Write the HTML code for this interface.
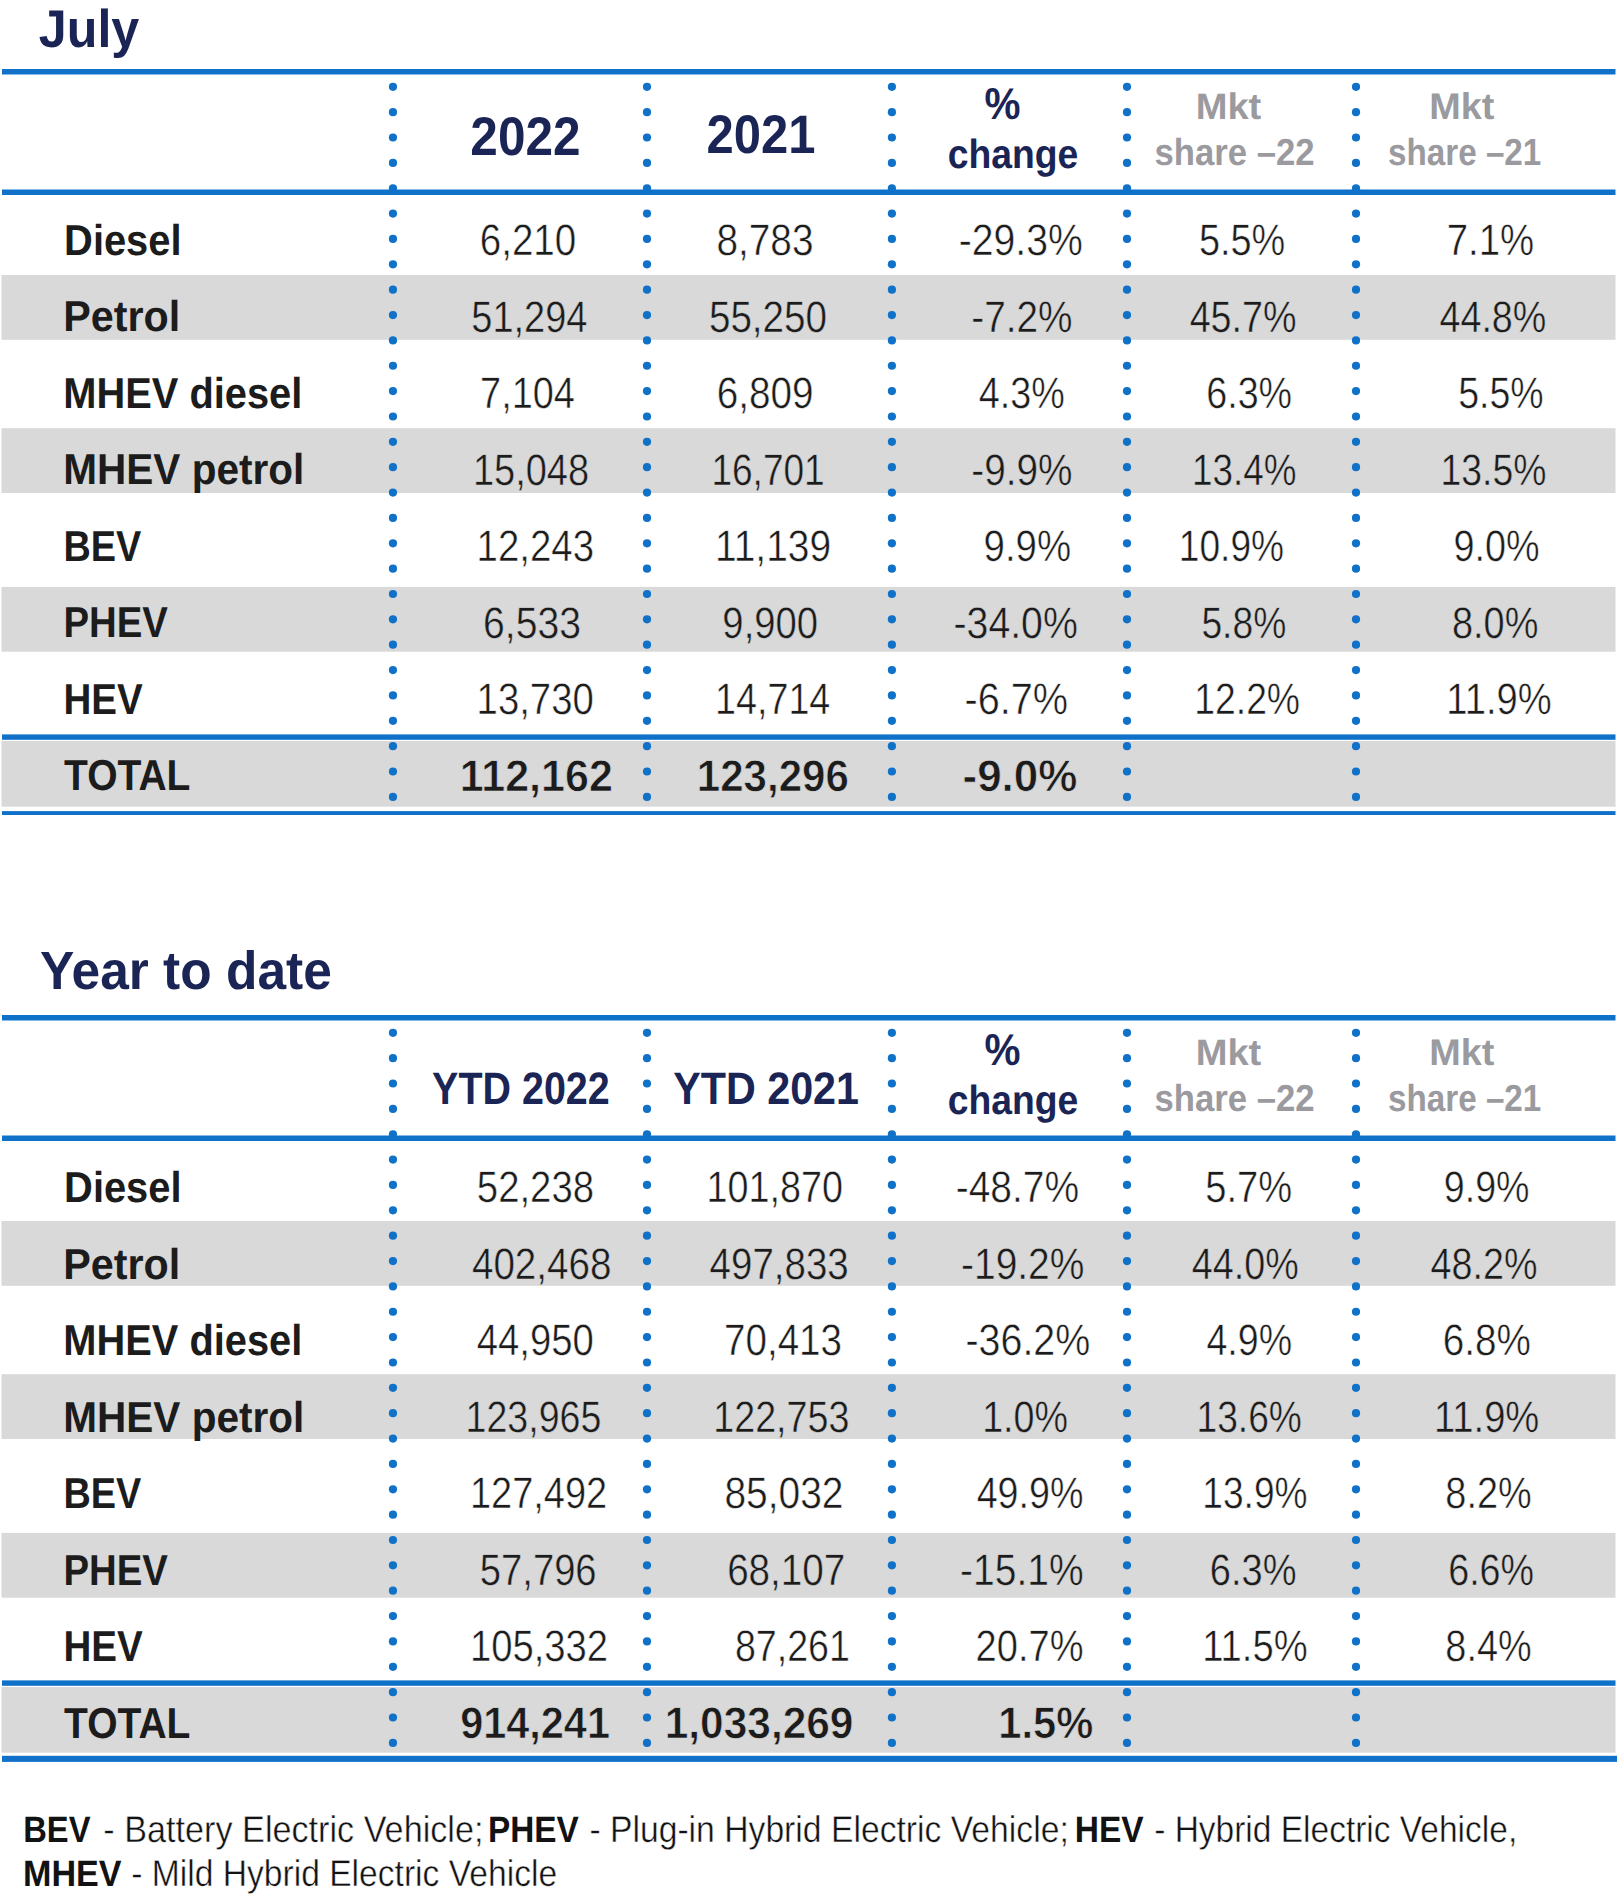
<!DOCTYPE html>
<html><head><meta charset="utf-8"><title>New car registrations by fuel type</title>
<style>
html,body{margin:0;padding:0;background:#fff;overflow:hidden;}
svg{display:block;}
text{font-family:"Liberation Sans",sans-serif;}
</style></head>
<body>
<svg width="1618" height="1899" viewBox="0 0 1618 1899" text-rendering="geometricPrecision">
<rect x="0" y="0" width="1618" height="1899" fill="#ffffff"/>
<text transform="translate(38.85 46.50) scale(0.9429 1)" font-size="53.24" font-weight="bold" fill="#1b2555">July</text>
<text transform="translate(40.00 988.80) scale(0.9574 1)" font-size="53.79" font-weight="bold" fill="#1b2555">Year to date</text>
<rect x="2.00" y="69.00" width="1613.50" height="5.50" fill="#1071c9"/>
<rect x="2.00" y="189.50" width="1613.50" height="5.50" fill="#1071c9"/>
<rect x="1.50" y="275.00" width="1614.00" height="64.80" fill="#d9d9d9"/>
<rect x="1.50" y="428.20" width="1614.00" height="64.80" fill="#d9d9d9"/>
<rect x="1.50" y="586.90" width="1614.00" height="64.80" fill="#d9d9d9"/>
<rect x="2.00" y="734.40" width="1613.50" height="5.40" fill="#1071c9"/>
<rect x="1.50" y="741.00" width="1614.00" height="65.70" fill="#d9d9d9"/>
<rect x="2.00" y="811.10" width="1613.50" height="3.90" fill="#1071c9"/>
<circle cx="392.95" cy="86.80" r="4.1" fill="#1071c9"/>
<circle cx="392.95" cy="112.16" r="4.1" fill="#1071c9"/>
<circle cx="392.95" cy="137.52" r="4.1" fill="#1071c9"/>
<circle cx="392.95" cy="162.88" r="4.1" fill="#1071c9"/>
<circle cx="392.95" cy="188.24" r="4.1" fill="#1071c9"/>
<circle cx="392.95" cy="213.60" r="4.1" fill="#1071c9"/>
<circle cx="392.95" cy="238.96" r="4.1" fill="#1071c9"/>
<circle cx="392.95" cy="264.32" r="4.1" fill="#1071c9"/>
<circle cx="392.95" cy="289.68" r="4.1" fill="#1071c9"/>
<circle cx="392.95" cy="315.04" r="4.1" fill="#1071c9"/>
<circle cx="392.95" cy="340.40" r="4.1" fill="#1071c9"/>
<circle cx="392.95" cy="365.76" r="4.1" fill="#1071c9"/>
<circle cx="392.95" cy="391.12" r="4.1" fill="#1071c9"/>
<circle cx="392.95" cy="416.48" r="4.1" fill="#1071c9"/>
<circle cx="392.95" cy="441.84" r="4.1" fill="#1071c9"/>
<circle cx="392.95" cy="467.20" r="4.1" fill="#1071c9"/>
<circle cx="392.95" cy="492.56" r="4.1" fill="#1071c9"/>
<circle cx="392.95" cy="517.92" r="4.1" fill="#1071c9"/>
<circle cx="392.95" cy="543.28" r="4.1" fill="#1071c9"/>
<circle cx="392.95" cy="568.64" r="4.1" fill="#1071c9"/>
<circle cx="392.95" cy="594.00" r="4.1" fill="#1071c9"/>
<circle cx="392.95" cy="619.36" r="4.1" fill="#1071c9"/>
<circle cx="392.95" cy="644.72" r="4.1" fill="#1071c9"/>
<circle cx="392.95" cy="670.08" r="4.1" fill="#1071c9"/>
<circle cx="392.95" cy="695.44" r="4.1" fill="#1071c9"/>
<circle cx="392.95" cy="720.80" r="4.1" fill="#1071c9"/>
<circle cx="392.95" cy="746.16" r="4.1" fill="#1071c9"/>
<circle cx="392.95" cy="771.52" r="4.1" fill="#1071c9"/>
<circle cx="392.95" cy="796.88" r="4.1" fill="#1071c9"/>
<circle cx="647.0" cy="86.80" r="4.1" fill="#1071c9"/>
<circle cx="647.0" cy="112.16" r="4.1" fill="#1071c9"/>
<circle cx="647.0" cy="137.52" r="4.1" fill="#1071c9"/>
<circle cx="647.0" cy="162.88" r="4.1" fill="#1071c9"/>
<circle cx="647.0" cy="188.24" r="4.1" fill="#1071c9"/>
<circle cx="647.0" cy="213.60" r="4.1" fill="#1071c9"/>
<circle cx="647.0" cy="238.96" r="4.1" fill="#1071c9"/>
<circle cx="647.0" cy="264.32" r="4.1" fill="#1071c9"/>
<circle cx="647.0" cy="289.68" r="4.1" fill="#1071c9"/>
<circle cx="647.0" cy="315.04" r="4.1" fill="#1071c9"/>
<circle cx="647.0" cy="340.40" r="4.1" fill="#1071c9"/>
<circle cx="647.0" cy="365.76" r="4.1" fill="#1071c9"/>
<circle cx="647.0" cy="391.12" r="4.1" fill="#1071c9"/>
<circle cx="647.0" cy="416.48" r="4.1" fill="#1071c9"/>
<circle cx="647.0" cy="441.84" r="4.1" fill="#1071c9"/>
<circle cx="647.0" cy="467.20" r="4.1" fill="#1071c9"/>
<circle cx="647.0" cy="492.56" r="4.1" fill="#1071c9"/>
<circle cx="647.0" cy="517.92" r="4.1" fill="#1071c9"/>
<circle cx="647.0" cy="543.28" r="4.1" fill="#1071c9"/>
<circle cx="647.0" cy="568.64" r="4.1" fill="#1071c9"/>
<circle cx="647.0" cy="594.00" r="4.1" fill="#1071c9"/>
<circle cx="647.0" cy="619.36" r="4.1" fill="#1071c9"/>
<circle cx="647.0" cy="644.72" r="4.1" fill="#1071c9"/>
<circle cx="647.0" cy="670.08" r="4.1" fill="#1071c9"/>
<circle cx="647.0" cy="695.44" r="4.1" fill="#1071c9"/>
<circle cx="647.0" cy="720.80" r="4.1" fill="#1071c9"/>
<circle cx="647.0" cy="746.16" r="4.1" fill="#1071c9"/>
<circle cx="647.0" cy="771.52" r="4.1" fill="#1071c9"/>
<circle cx="647.0" cy="796.88" r="4.1" fill="#1071c9"/>
<circle cx="891.9" cy="86.80" r="4.1" fill="#1071c9"/>
<circle cx="891.9" cy="112.16" r="4.1" fill="#1071c9"/>
<circle cx="891.9" cy="137.52" r="4.1" fill="#1071c9"/>
<circle cx="891.9" cy="162.88" r="4.1" fill="#1071c9"/>
<circle cx="891.9" cy="188.24" r="4.1" fill="#1071c9"/>
<circle cx="891.9" cy="213.60" r="4.1" fill="#1071c9"/>
<circle cx="891.9" cy="238.96" r="4.1" fill="#1071c9"/>
<circle cx="891.9" cy="264.32" r="4.1" fill="#1071c9"/>
<circle cx="891.9" cy="289.68" r="4.1" fill="#1071c9"/>
<circle cx="891.9" cy="315.04" r="4.1" fill="#1071c9"/>
<circle cx="891.9" cy="340.40" r="4.1" fill="#1071c9"/>
<circle cx="891.9" cy="365.76" r="4.1" fill="#1071c9"/>
<circle cx="891.9" cy="391.12" r="4.1" fill="#1071c9"/>
<circle cx="891.9" cy="416.48" r="4.1" fill="#1071c9"/>
<circle cx="891.9" cy="441.84" r="4.1" fill="#1071c9"/>
<circle cx="891.9" cy="467.20" r="4.1" fill="#1071c9"/>
<circle cx="891.9" cy="492.56" r="4.1" fill="#1071c9"/>
<circle cx="891.9" cy="517.92" r="4.1" fill="#1071c9"/>
<circle cx="891.9" cy="543.28" r="4.1" fill="#1071c9"/>
<circle cx="891.9" cy="568.64" r="4.1" fill="#1071c9"/>
<circle cx="891.9" cy="594.00" r="4.1" fill="#1071c9"/>
<circle cx="891.9" cy="619.36" r="4.1" fill="#1071c9"/>
<circle cx="891.9" cy="644.72" r="4.1" fill="#1071c9"/>
<circle cx="891.9" cy="670.08" r="4.1" fill="#1071c9"/>
<circle cx="891.9" cy="695.44" r="4.1" fill="#1071c9"/>
<circle cx="891.9" cy="720.80" r="4.1" fill="#1071c9"/>
<circle cx="891.9" cy="746.16" r="4.1" fill="#1071c9"/>
<circle cx="891.9" cy="771.52" r="4.1" fill="#1071c9"/>
<circle cx="891.9" cy="796.88" r="4.1" fill="#1071c9"/>
<circle cx="1127.0" cy="86.80" r="4.1" fill="#1071c9"/>
<circle cx="1127.0" cy="112.16" r="4.1" fill="#1071c9"/>
<circle cx="1127.0" cy="137.52" r="4.1" fill="#1071c9"/>
<circle cx="1127.0" cy="162.88" r="4.1" fill="#1071c9"/>
<circle cx="1127.0" cy="188.24" r="4.1" fill="#1071c9"/>
<circle cx="1127.0" cy="213.60" r="4.1" fill="#1071c9"/>
<circle cx="1127.0" cy="238.96" r="4.1" fill="#1071c9"/>
<circle cx="1127.0" cy="264.32" r="4.1" fill="#1071c9"/>
<circle cx="1127.0" cy="289.68" r="4.1" fill="#1071c9"/>
<circle cx="1127.0" cy="315.04" r="4.1" fill="#1071c9"/>
<circle cx="1127.0" cy="340.40" r="4.1" fill="#1071c9"/>
<circle cx="1127.0" cy="365.76" r="4.1" fill="#1071c9"/>
<circle cx="1127.0" cy="391.12" r="4.1" fill="#1071c9"/>
<circle cx="1127.0" cy="416.48" r="4.1" fill="#1071c9"/>
<circle cx="1127.0" cy="441.84" r="4.1" fill="#1071c9"/>
<circle cx="1127.0" cy="467.20" r="4.1" fill="#1071c9"/>
<circle cx="1127.0" cy="492.56" r="4.1" fill="#1071c9"/>
<circle cx="1127.0" cy="517.92" r="4.1" fill="#1071c9"/>
<circle cx="1127.0" cy="543.28" r="4.1" fill="#1071c9"/>
<circle cx="1127.0" cy="568.64" r="4.1" fill="#1071c9"/>
<circle cx="1127.0" cy="594.00" r="4.1" fill="#1071c9"/>
<circle cx="1127.0" cy="619.36" r="4.1" fill="#1071c9"/>
<circle cx="1127.0" cy="644.72" r="4.1" fill="#1071c9"/>
<circle cx="1127.0" cy="670.08" r="4.1" fill="#1071c9"/>
<circle cx="1127.0" cy="695.44" r="4.1" fill="#1071c9"/>
<circle cx="1127.0" cy="720.80" r="4.1" fill="#1071c9"/>
<circle cx="1127.0" cy="746.16" r="4.1" fill="#1071c9"/>
<circle cx="1127.0" cy="771.52" r="4.1" fill="#1071c9"/>
<circle cx="1127.0" cy="796.88" r="4.1" fill="#1071c9"/>
<circle cx="1356.0" cy="86.80" r="4.1" fill="#1071c9"/>
<circle cx="1356.0" cy="112.16" r="4.1" fill="#1071c9"/>
<circle cx="1356.0" cy="137.52" r="4.1" fill="#1071c9"/>
<circle cx="1356.0" cy="162.88" r="4.1" fill="#1071c9"/>
<circle cx="1356.0" cy="188.24" r="4.1" fill="#1071c9"/>
<circle cx="1356.0" cy="213.60" r="4.1" fill="#1071c9"/>
<circle cx="1356.0" cy="238.96" r="4.1" fill="#1071c9"/>
<circle cx="1356.0" cy="264.32" r="4.1" fill="#1071c9"/>
<circle cx="1356.0" cy="289.68" r="4.1" fill="#1071c9"/>
<circle cx="1356.0" cy="315.04" r="4.1" fill="#1071c9"/>
<circle cx="1356.0" cy="340.40" r="4.1" fill="#1071c9"/>
<circle cx="1356.0" cy="365.76" r="4.1" fill="#1071c9"/>
<circle cx="1356.0" cy="391.12" r="4.1" fill="#1071c9"/>
<circle cx="1356.0" cy="416.48" r="4.1" fill="#1071c9"/>
<circle cx="1356.0" cy="441.84" r="4.1" fill="#1071c9"/>
<circle cx="1356.0" cy="467.20" r="4.1" fill="#1071c9"/>
<circle cx="1356.0" cy="492.56" r="4.1" fill="#1071c9"/>
<circle cx="1356.0" cy="517.92" r="4.1" fill="#1071c9"/>
<circle cx="1356.0" cy="543.28" r="4.1" fill="#1071c9"/>
<circle cx="1356.0" cy="568.64" r="4.1" fill="#1071c9"/>
<circle cx="1356.0" cy="594.00" r="4.1" fill="#1071c9"/>
<circle cx="1356.0" cy="619.36" r="4.1" fill="#1071c9"/>
<circle cx="1356.0" cy="644.72" r="4.1" fill="#1071c9"/>
<circle cx="1356.0" cy="670.08" r="4.1" fill="#1071c9"/>
<circle cx="1356.0" cy="695.44" r="4.1" fill="#1071c9"/>
<circle cx="1356.0" cy="720.80" r="4.1" fill="#1071c9"/>
<circle cx="1356.0" cy="746.16" r="4.1" fill="#1071c9"/>
<circle cx="1356.0" cy="771.52" r="4.1" fill="#1071c9"/>
<circle cx="1356.0" cy="796.88" r="4.1" fill="#1071c9"/>
<text transform="translate(64.11 254.80) scale(0.9226 1)" font-size="43.20" font-weight="bold" fill="#1c1c1c">Diesel</text>
<text transform="translate(479.75 255.05) scale(0.8781 1)" font-size="43.93" font-weight="normal" fill="#1c1c1c" stroke="#ffffff" stroke-width="0.5">6,210</text>
<text transform="translate(716.43 255.05) scale(0.8828 1)" font-size="43.93" font-weight="normal" fill="#1c1c1c" stroke="#ffffff" stroke-width="0.5">8,783</text>
<text transform="translate(958.71 255.05) scale(0.8918 1)" font-size="43.93" font-weight="normal" fill="#1c1c1c" stroke="#ffffff" stroke-width="0.5">-29.3%</text>
<text transform="translate(1198.96 255.05) scale(0.8625 1)" font-size="43.93" font-weight="normal" fill="#1c1c1c" stroke="#ffffff" stroke-width="0.5">5.5%</text>
<text transform="translate(1446.66 255.05) scale(0.8727 1)" font-size="43.93" font-weight="normal" fill="#1c1c1c" stroke="#ffffff" stroke-width="0.5">7.1%</text>
<text transform="translate(63.21 331.30) scale(0.9560 1)" font-size="43.20" font-weight="bold" fill="#1c1c1c">Petrol</text>
<text transform="translate(471.26 331.55) scale(0.8645 1)" font-size="43.93" font-weight="normal" fill="#1c1c1c" stroke="#d9d9d9" stroke-width="0.5">51,294</text>
<text transform="translate(708.93 331.55) scale(0.8789 1)" font-size="43.93" font-weight="normal" fill="#1c1c1c" stroke="#d9d9d9" stroke-width="0.5">55,250</text>
<text transform="translate(971.23 331.55) scale(0.8823 1)" font-size="43.93" font-weight="normal" fill="#1c1c1c" stroke="#d9d9d9" stroke-width="0.5">-7.2%</text>
<text transform="translate(1189.63 331.55) scale(0.8586 1)" font-size="43.93" font-weight="normal" fill="#1c1c1c" stroke="#d9d9d9" stroke-width="0.5">45.7%</text>
<text transform="translate(1439.43 331.55) scale(0.8586 1)" font-size="43.93" font-weight="normal" fill="#1c1c1c" stroke="#d9d9d9" stroke-width="0.5">44.8%</text>
<text transform="translate(63.31 407.80) scale(0.9220 1)" font-size="43.20" font-weight="bold" fill="#1c1c1c">MHEV diesel</text>
<text transform="translate(480.09 408.05) scale(0.8613 1)" font-size="43.93" font-weight="normal" fill="#1c1c1c" stroke="#ffffff" stroke-width="0.5">7,104</text>
<text transform="translate(716.74 408.05) scale(0.8808 1)" font-size="43.93" font-weight="normal" fill="#1c1c1c" stroke="#ffffff" stroke-width="0.5">6,809</text>
<text transform="translate(978.83 408.05) scale(0.8598 1)" font-size="43.93" font-weight="normal" fill="#1c1c1c" stroke="#ffffff" stroke-width="0.5">4.3%</text>
<text transform="translate(1206.29 408.05) scale(0.8571 1)" font-size="43.93" font-weight="normal" fill="#1c1c1c" stroke="#ffffff" stroke-width="0.5">6.3%</text>
<text transform="translate(1458.28 408.05) scale(0.8532 1)" font-size="43.93" font-weight="normal" fill="#1c1c1c" stroke="#ffffff" stroke-width="0.5">5.5%</text>
<text transform="translate(63.26 484.30) scale(0.9387 1)" font-size="43.20" font-weight="bold" fill="#1c1c1c">MHEV petrol</text>
<text transform="translate(472.93 484.55) scale(0.8645 1)" font-size="43.93" font-weight="normal" fill="#1c1c1c" stroke="#d9d9d9" stroke-width="0.5">15,048</text>
<text transform="translate(711.40 484.55) scale(0.8435 1)" font-size="43.93" font-weight="normal" fill="#1c1c1c" stroke="#d9d9d9" stroke-width="0.5">16,701</text>
<text transform="translate(971.23 484.55) scale(0.8823 1)" font-size="43.93" font-weight="normal" fill="#1c1c1c" stroke="#d9d9d9" stroke-width="0.5">-9.9%</text>
<text transform="translate(1192.11 484.55) scale(0.8383 1)" font-size="43.93" font-weight="normal" fill="#1c1c1c" stroke="#d9d9d9" stroke-width="0.5">13.4%</text>
<text transform="translate(1440.58 484.55) scale(0.8492 1)" font-size="43.93" font-weight="normal" fill="#1c1c1c" stroke="#d9d9d9" stroke-width="0.5">13.5%</text>
<text transform="translate(63.45 560.80) scale(0.8757 1)" font-size="43.20" font-weight="bold" fill="#1c1c1c">BEV</text>
<text transform="translate(476.60 561.05) scale(0.8738 1)" font-size="43.93" font-weight="normal" fill="#1c1c1c" stroke="#ffffff" stroke-width="0.5">12,243</text>
<text transform="translate(714.96 561.05) scale(0.8855 1)" font-size="43.93" font-weight="normal" fill="#1c1c1c" stroke="#ffffff" stroke-width="0.5">11,139</text>
<text transform="translate(983.55 561.05) scale(0.8748 1)" font-size="43.93" font-weight="normal" fill="#1c1c1c" stroke="#ffffff" stroke-width="0.5">9.9%</text>
<text transform="translate(1178.79 561.05) scale(0.8450 1)" font-size="43.93" font-weight="normal" fill="#1c1c1c" stroke="#ffffff" stroke-width="0.5">10.9%</text>
<text transform="translate(1453.58 561.05) scale(0.8603 1)" font-size="43.93" font-weight="normal" fill="#1c1c1c" stroke="#ffffff" stroke-width="0.5">9.0%</text>
<text transform="translate(63.41 637.30) scale(0.8875 1)" font-size="43.20" font-weight="bold" fill="#1c1c1c">PHEV</text>
<text transform="translate(483.12 637.55) scale(0.8903 1)" font-size="43.93" font-weight="normal" fill="#1c1c1c" stroke="#d9d9d9" stroke-width="0.5">6,533</text>
<text transform="translate(722.36 637.55) scale(0.8706 1)" font-size="43.93" font-weight="normal" fill="#1c1c1c" stroke="#d9d9d9" stroke-width="0.5">9,900</text>
<text transform="translate(953.51 637.55) scale(0.8933 1)" font-size="43.93" font-weight="normal" fill="#1c1c1c" stroke="#d9d9d9" stroke-width="0.5">-34.0%</text>
<text transform="translate(1201.38 637.55) scale(0.8481 1)" font-size="43.93" font-weight="normal" fill="#1c1c1c" stroke="#d9d9d9" stroke-width="0.5">5.8%</text>
<text transform="translate(1451.96 637.55) scale(0.8635 1)" font-size="43.93" font-weight="normal" fill="#1c1c1c" stroke="#d9d9d9" stroke-width="0.5">8.0%</text>
<text transform="translate(63.40 713.80) scale(0.8921 1)" font-size="43.20" font-weight="bold" fill="#1c1c1c">HEV</text>
<text transform="translate(476.60 714.05) scale(0.8723 1)" font-size="43.93" font-weight="normal" fill="#1c1c1c" stroke="#ffffff" stroke-width="0.5">13,730</text>
<text transform="translate(715.05 714.05) scale(0.8578 1)" font-size="43.93" font-weight="normal" fill="#1c1c1c" stroke="#ffffff" stroke-width="0.5">14,714</text>
<text transform="translate(964.59 714.05) scale(0.9020 1)" font-size="43.93" font-weight="normal" fill="#1c1c1c" stroke="#ffffff" stroke-width="0.5">-6.7%</text>
<text transform="translate(1194.28 714.05) scale(0.8492 1)" font-size="43.93" font-weight="normal" fill="#1c1c1c" stroke="#ffffff" stroke-width="0.5">12.2%</text>
<text transform="translate(1446.31 714.05) scale(0.8689 1)" font-size="43.93" font-weight="normal" fill="#1c1c1c" stroke="#ffffff" stroke-width="0.5">11.9%</text>
<text transform="translate(64.01 790.30) scale(0.9035 1)" font-size="43.20" font-weight="bold" fill="#1c1c1c">TOTAL</text>
<text transform="translate(459.70 790.65) scale(0.9729 1)" font-size="44.22" font-weight="bold" fill="#1c1c1c" stroke="#d9d9d9" stroke-width="0.7">112,162</text>
<text transform="translate(696.86 790.65) scale(0.9505 1)" font-size="44.22" font-weight="bold" fill="#1c1c1c" stroke="#d9d9d9" stroke-width="0.7">123,296</text>
<text transform="translate(962.53 790.65) scale(0.9937 1)" font-size="44.22" font-weight="bold" fill="#1c1c1c" stroke="#d9d9d9" stroke-width="0.7">-9.0%</text>
<text transform="translate(470.37 154.90) scale(0.9094 1)" font-size="54.48" font-weight="bold" fill="#1b2555">2022</text>
<text transform="translate(706.49 152.80) scale(0.9014 1)" font-size="54.34" font-weight="bold" fill="#1b2555">2021</text>
<text transform="translate(984.59 118.80) scale(0.9104 1)" font-size="44.46" font-weight="bold" fill="#1b2555">%</text>
<text transform="translate(947.81 168.20) scale(0.9133 1)" font-size="40.83" font-weight="bold" fill="#1b2555">change</text>
<text transform="translate(1195.63 118.80) scale(1.0349 1)" font-size="36.83" font-weight="bold" fill="#9a9a9f">Mkt</text>
<text transform="translate(1154.49 164.50) scale(0.9247 1)" font-size="37.52" font-weight="bold" fill="#9a9a9f">share –22</text>
<text transform="translate(1429.25 119.10) scale(1.0152 1)" font-size="37.24" font-weight="bold" fill="#9a9a9f">Mkt</text>
<text transform="translate(1388.04 165.10) scale(0.8820 1)" font-size="37.66" font-weight="bold" fill="#9a9a9f">share –21</text>
<rect x="2.00" y="1015.00" width="1613.50" height="5.50" fill="#1071c9"/>
<rect x="2.00" y="1135.50" width="1613.50" height="5.50" fill="#1071c9"/>
<rect x="1.50" y="1221.00" width="1614.00" height="64.80" fill="#d9d9d9"/>
<rect x="1.50" y="1374.20" width="1614.00" height="64.80" fill="#d9d9d9"/>
<rect x="1.50" y="1532.90" width="1614.00" height="64.80" fill="#d9d9d9"/>
<rect x="2.00" y="1680.40" width="1613.50" height="5.40" fill="#1071c9"/>
<rect x="1.50" y="1687.00" width="1614.00" height="65.70" fill="#d9d9d9"/>
<rect x="2.00" y="1755.80" width="1615.00" height="6.10" fill="#1071c9"/>
<circle cx="392.95" cy="1032.80" r="4.1" fill="#1071c9"/>
<circle cx="392.95" cy="1058.16" r="4.1" fill="#1071c9"/>
<circle cx="392.95" cy="1083.52" r="4.1" fill="#1071c9"/>
<circle cx="392.95" cy="1108.88" r="4.1" fill="#1071c9"/>
<circle cx="392.95" cy="1134.24" r="4.1" fill="#1071c9"/>
<circle cx="392.95" cy="1159.60" r="4.1" fill="#1071c9"/>
<circle cx="392.95" cy="1184.96" r="4.1" fill="#1071c9"/>
<circle cx="392.95" cy="1210.32" r="4.1" fill="#1071c9"/>
<circle cx="392.95" cy="1235.68" r="4.1" fill="#1071c9"/>
<circle cx="392.95" cy="1261.04" r="4.1" fill="#1071c9"/>
<circle cx="392.95" cy="1286.40" r="4.1" fill="#1071c9"/>
<circle cx="392.95" cy="1311.76" r="4.1" fill="#1071c9"/>
<circle cx="392.95" cy="1337.12" r="4.1" fill="#1071c9"/>
<circle cx="392.95" cy="1362.48" r="4.1" fill="#1071c9"/>
<circle cx="392.95" cy="1387.84" r="4.1" fill="#1071c9"/>
<circle cx="392.95" cy="1413.20" r="4.1" fill="#1071c9"/>
<circle cx="392.95" cy="1438.56" r="4.1" fill="#1071c9"/>
<circle cx="392.95" cy="1463.92" r="4.1" fill="#1071c9"/>
<circle cx="392.95" cy="1489.28" r="4.1" fill="#1071c9"/>
<circle cx="392.95" cy="1514.64" r="4.1" fill="#1071c9"/>
<circle cx="392.95" cy="1540.00" r="4.1" fill="#1071c9"/>
<circle cx="392.95" cy="1565.36" r="4.1" fill="#1071c9"/>
<circle cx="392.95" cy="1590.72" r="4.1" fill="#1071c9"/>
<circle cx="392.95" cy="1616.08" r="4.1" fill="#1071c9"/>
<circle cx="392.95" cy="1641.44" r="4.1" fill="#1071c9"/>
<circle cx="392.95" cy="1666.80" r="4.1" fill="#1071c9"/>
<circle cx="392.95" cy="1692.16" r="4.1" fill="#1071c9"/>
<circle cx="392.95" cy="1717.52" r="4.1" fill="#1071c9"/>
<circle cx="392.95" cy="1742.88" r="4.1" fill="#1071c9"/>
<circle cx="647.0" cy="1032.80" r="4.1" fill="#1071c9"/>
<circle cx="647.0" cy="1058.16" r="4.1" fill="#1071c9"/>
<circle cx="647.0" cy="1083.52" r="4.1" fill="#1071c9"/>
<circle cx="647.0" cy="1108.88" r="4.1" fill="#1071c9"/>
<circle cx="647.0" cy="1134.24" r="4.1" fill="#1071c9"/>
<circle cx="647.0" cy="1159.60" r="4.1" fill="#1071c9"/>
<circle cx="647.0" cy="1184.96" r="4.1" fill="#1071c9"/>
<circle cx="647.0" cy="1210.32" r="4.1" fill="#1071c9"/>
<circle cx="647.0" cy="1235.68" r="4.1" fill="#1071c9"/>
<circle cx="647.0" cy="1261.04" r="4.1" fill="#1071c9"/>
<circle cx="647.0" cy="1286.40" r="4.1" fill="#1071c9"/>
<circle cx="647.0" cy="1311.76" r="4.1" fill="#1071c9"/>
<circle cx="647.0" cy="1337.12" r="4.1" fill="#1071c9"/>
<circle cx="647.0" cy="1362.48" r="4.1" fill="#1071c9"/>
<circle cx="647.0" cy="1387.84" r="4.1" fill="#1071c9"/>
<circle cx="647.0" cy="1413.20" r="4.1" fill="#1071c9"/>
<circle cx="647.0" cy="1438.56" r="4.1" fill="#1071c9"/>
<circle cx="647.0" cy="1463.92" r="4.1" fill="#1071c9"/>
<circle cx="647.0" cy="1489.28" r="4.1" fill="#1071c9"/>
<circle cx="647.0" cy="1514.64" r="4.1" fill="#1071c9"/>
<circle cx="647.0" cy="1540.00" r="4.1" fill="#1071c9"/>
<circle cx="647.0" cy="1565.36" r="4.1" fill="#1071c9"/>
<circle cx="647.0" cy="1590.72" r="4.1" fill="#1071c9"/>
<circle cx="647.0" cy="1616.08" r="4.1" fill="#1071c9"/>
<circle cx="647.0" cy="1641.44" r="4.1" fill="#1071c9"/>
<circle cx="647.0" cy="1666.80" r="4.1" fill="#1071c9"/>
<circle cx="647.0" cy="1692.16" r="4.1" fill="#1071c9"/>
<circle cx="647.0" cy="1717.52" r="4.1" fill="#1071c9"/>
<circle cx="647.0" cy="1742.88" r="4.1" fill="#1071c9"/>
<circle cx="891.9" cy="1032.80" r="4.1" fill="#1071c9"/>
<circle cx="891.9" cy="1058.16" r="4.1" fill="#1071c9"/>
<circle cx="891.9" cy="1083.52" r="4.1" fill="#1071c9"/>
<circle cx="891.9" cy="1108.88" r="4.1" fill="#1071c9"/>
<circle cx="891.9" cy="1134.24" r="4.1" fill="#1071c9"/>
<circle cx="891.9" cy="1159.60" r="4.1" fill="#1071c9"/>
<circle cx="891.9" cy="1184.96" r="4.1" fill="#1071c9"/>
<circle cx="891.9" cy="1210.32" r="4.1" fill="#1071c9"/>
<circle cx="891.9" cy="1235.68" r="4.1" fill="#1071c9"/>
<circle cx="891.9" cy="1261.04" r="4.1" fill="#1071c9"/>
<circle cx="891.9" cy="1286.40" r="4.1" fill="#1071c9"/>
<circle cx="891.9" cy="1311.76" r="4.1" fill="#1071c9"/>
<circle cx="891.9" cy="1337.12" r="4.1" fill="#1071c9"/>
<circle cx="891.9" cy="1362.48" r="4.1" fill="#1071c9"/>
<circle cx="891.9" cy="1387.84" r="4.1" fill="#1071c9"/>
<circle cx="891.9" cy="1413.20" r="4.1" fill="#1071c9"/>
<circle cx="891.9" cy="1438.56" r="4.1" fill="#1071c9"/>
<circle cx="891.9" cy="1463.92" r="4.1" fill="#1071c9"/>
<circle cx="891.9" cy="1489.28" r="4.1" fill="#1071c9"/>
<circle cx="891.9" cy="1514.64" r="4.1" fill="#1071c9"/>
<circle cx="891.9" cy="1540.00" r="4.1" fill="#1071c9"/>
<circle cx="891.9" cy="1565.36" r="4.1" fill="#1071c9"/>
<circle cx="891.9" cy="1590.72" r="4.1" fill="#1071c9"/>
<circle cx="891.9" cy="1616.08" r="4.1" fill="#1071c9"/>
<circle cx="891.9" cy="1641.44" r="4.1" fill="#1071c9"/>
<circle cx="891.9" cy="1666.80" r="4.1" fill="#1071c9"/>
<circle cx="891.9" cy="1692.16" r="4.1" fill="#1071c9"/>
<circle cx="891.9" cy="1717.52" r="4.1" fill="#1071c9"/>
<circle cx="891.9" cy="1742.88" r="4.1" fill="#1071c9"/>
<circle cx="1127.0" cy="1032.80" r="4.1" fill="#1071c9"/>
<circle cx="1127.0" cy="1058.16" r="4.1" fill="#1071c9"/>
<circle cx="1127.0" cy="1083.52" r="4.1" fill="#1071c9"/>
<circle cx="1127.0" cy="1108.88" r="4.1" fill="#1071c9"/>
<circle cx="1127.0" cy="1134.24" r="4.1" fill="#1071c9"/>
<circle cx="1127.0" cy="1159.60" r="4.1" fill="#1071c9"/>
<circle cx="1127.0" cy="1184.96" r="4.1" fill="#1071c9"/>
<circle cx="1127.0" cy="1210.32" r="4.1" fill="#1071c9"/>
<circle cx="1127.0" cy="1235.68" r="4.1" fill="#1071c9"/>
<circle cx="1127.0" cy="1261.04" r="4.1" fill="#1071c9"/>
<circle cx="1127.0" cy="1286.40" r="4.1" fill="#1071c9"/>
<circle cx="1127.0" cy="1311.76" r="4.1" fill="#1071c9"/>
<circle cx="1127.0" cy="1337.12" r="4.1" fill="#1071c9"/>
<circle cx="1127.0" cy="1362.48" r="4.1" fill="#1071c9"/>
<circle cx="1127.0" cy="1387.84" r="4.1" fill="#1071c9"/>
<circle cx="1127.0" cy="1413.20" r="4.1" fill="#1071c9"/>
<circle cx="1127.0" cy="1438.56" r="4.1" fill="#1071c9"/>
<circle cx="1127.0" cy="1463.92" r="4.1" fill="#1071c9"/>
<circle cx="1127.0" cy="1489.28" r="4.1" fill="#1071c9"/>
<circle cx="1127.0" cy="1514.64" r="4.1" fill="#1071c9"/>
<circle cx="1127.0" cy="1540.00" r="4.1" fill="#1071c9"/>
<circle cx="1127.0" cy="1565.36" r="4.1" fill="#1071c9"/>
<circle cx="1127.0" cy="1590.72" r="4.1" fill="#1071c9"/>
<circle cx="1127.0" cy="1616.08" r="4.1" fill="#1071c9"/>
<circle cx="1127.0" cy="1641.44" r="4.1" fill="#1071c9"/>
<circle cx="1127.0" cy="1666.80" r="4.1" fill="#1071c9"/>
<circle cx="1127.0" cy="1692.16" r="4.1" fill="#1071c9"/>
<circle cx="1127.0" cy="1717.52" r="4.1" fill="#1071c9"/>
<circle cx="1127.0" cy="1742.88" r="4.1" fill="#1071c9"/>
<circle cx="1356.0" cy="1032.80" r="4.1" fill="#1071c9"/>
<circle cx="1356.0" cy="1058.16" r="4.1" fill="#1071c9"/>
<circle cx="1356.0" cy="1083.52" r="4.1" fill="#1071c9"/>
<circle cx="1356.0" cy="1108.88" r="4.1" fill="#1071c9"/>
<circle cx="1356.0" cy="1134.24" r="4.1" fill="#1071c9"/>
<circle cx="1356.0" cy="1159.60" r="4.1" fill="#1071c9"/>
<circle cx="1356.0" cy="1184.96" r="4.1" fill="#1071c9"/>
<circle cx="1356.0" cy="1210.32" r="4.1" fill="#1071c9"/>
<circle cx="1356.0" cy="1235.68" r="4.1" fill="#1071c9"/>
<circle cx="1356.0" cy="1261.04" r="4.1" fill="#1071c9"/>
<circle cx="1356.0" cy="1286.40" r="4.1" fill="#1071c9"/>
<circle cx="1356.0" cy="1311.76" r="4.1" fill="#1071c9"/>
<circle cx="1356.0" cy="1337.12" r="4.1" fill="#1071c9"/>
<circle cx="1356.0" cy="1362.48" r="4.1" fill="#1071c9"/>
<circle cx="1356.0" cy="1387.84" r="4.1" fill="#1071c9"/>
<circle cx="1356.0" cy="1413.20" r="4.1" fill="#1071c9"/>
<circle cx="1356.0" cy="1438.56" r="4.1" fill="#1071c9"/>
<circle cx="1356.0" cy="1463.92" r="4.1" fill="#1071c9"/>
<circle cx="1356.0" cy="1489.28" r="4.1" fill="#1071c9"/>
<circle cx="1356.0" cy="1514.64" r="4.1" fill="#1071c9"/>
<circle cx="1356.0" cy="1540.00" r="4.1" fill="#1071c9"/>
<circle cx="1356.0" cy="1565.36" r="4.1" fill="#1071c9"/>
<circle cx="1356.0" cy="1590.72" r="4.1" fill="#1071c9"/>
<circle cx="1356.0" cy="1616.08" r="4.1" fill="#1071c9"/>
<circle cx="1356.0" cy="1641.44" r="4.1" fill="#1071c9"/>
<circle cx="1356.0" cy="1666.80" r="4.1" fill="#1071c9"/>
<circle cx="1356.0" cy="1692.16" r="4.1" fill="#1071c9"/>
<circle cx="1356.0" cy="1717.52" r="4.1" fill="#1071c9"/>
<circle cx="1356.0" cy="1742.88" r="4.1" fill="#1071c9"/>
<text transform="translate(64.11 1202.00) scale(0.9226 1)" font-size="43.20" font-weight="bold" fill="#1c1c1c">Diesel</text>
<text transform="translate(476.84 1202.25) scale(0.8720 1)" font-size="43.93" font-weight="normal" fill="#1c1c1c" stroke="#ffffff" stroke-width="0.5">52,238</text>
<text transform="translate(706.55 1202.25) scale(0.8589 1)" font-size="43.93" font-weight="normal" fill="#1c1c1c" stroke="#ffffff" stroke-width="0.5">101,870</text>
<text transform="translate(955.72 1202.25) scale(0.8866 1)" font-size="43.93" font-weight="normal" fill="#1c1c1c" stroke="#ffffff" stroke-width="0.5">-48.7%</text>
<text transform="translate(1205.35 1202.25) scale(0.8667 1)" font-size="43.93" font-weight="normal" fill="#1c1c1c" stroke="#ffffff" stroke-width="0.5">5.7%</text>
<text transform="translate(1443.79 1202.25) scale(0.8561 1)" font-size="43.93" font-weight="normal" fill="#1c1c1c" stroke="#ffffff" stroke-width="0.5">9.9%</text>
<text transform="translate(63.21 1278.50) scale(0.9560 1)" font-size="43.20" font-weight="bold" fill="#1c1c1c">Petrol</text>
<text transform="translate(471.91 1278.75) scale(0.8788 1)" font-size="43.93" font-weight="normal" fill="#1c1c1c" stroke="#d9d9d9" stroke-width="0.5">402,468</text>
<text transform="translate(709.61 1278.75) scale(0.8763 1)" font-size="43.93" font-weight="normal" fill="#1c1c1c" stroke="#d9d9d9" stroke-width="0.5">497,833</text>
<text transform="translate(961.02 1278.75) scale(0.8866 1)" font-size="43.93" font-weight="normal" fill="#1c1c1c" stroke="#d9d9d9" stroke-width="0.5">-19.2%</text>
<text transform="translate(1191.83 1278.75) scale(0.8586 1)" font-size="43.93" font-weight="normal" fill="#1c1c1c" stroke="#d9d9d9" stroke-width="0.5">44.0%</text>
<text transform="translate(1430.53 1278.75) scale(0.8586 1)" font-size="43.93" font-weight="normal" fill="#1c1c1c" stroke="#d9d9d9" stroke-width="0.5">48.2%</text>
<text transform="translate(63.31 1355.00) scale(0.9220 1)" font-size="43.20" font-weight="bold" fill="#1c1c1c">MHEV diesel</text>
<text transform="translate(476.81 1355.25) scale(0.8707 1)" font-size="43.93" font-weight="normal" fill="#1c1c1c" stroke="#ffffff" stroke-width="0.5">44,950</text>
<text transform="translate(724.05 1355.25) scale(0.8779 1)" font-size="43.93" font-weight="normal" fill="#1c1c1c" stroke="#ffffff" stroke-width="0.5">70,413</text>
<text transform="translate(965.50 1355.25) scale(0.8962 1)" font-size="43.93" font-weight="normal" fill="#1c1c1c" stroke="#ffffff" stroke-width="0.5">-36.2%</text>
<text transform="translate(1206.43 1355.25) scale(0.8557 1)" font-size="43.93" font-weight="normal" fill="#1c1c1c" stroke="#ffffff" stroke-width="0.5">4.9%</text>
<text transform="translate(1442.74 1355.25) scale(0.8800 1)" font-size="43.93" font-weight="normal" fill="#1c1c1c" stroke="#ffffff" stroke-width="0.5">6.8%</text>
<text transform="translate(63.26 1431.50) scale(0.9387 1)" font-size="43.20" font-weight="bold" fill="#1c1c1c">MHEV petrol</text>
<text transform="translate(465.56 1431.75) scale(0.8549 1)" font-size="43.93" font-weight="normal" fill="#1c1c1c" stroke="#d9d9d9" stroke-width="0.5">123,965</text>
<text transform="translate(713.25 1431.75) scale(0.8575 1)" font-size="43.93" font-weight="normal" fill="#1c1c1c" stroke="#d9d9d9" stroke-width="0.5">122,753</text>
<text transform="translate(982.15 1431.75) scale(0.8576 1)" font-size="43.93" font-weight="normal" fill="#1c1c1c" stroke="#d9d9d9" stroke-width="0.5">1.0%</text>
<text transform="translate(1196.49 1431.75) scale(0.8459 1)" font-size="43.93" font-weight="normal" fill="#1c1c1c" stroke="#d9d9d9" stroke-width="0.5">13.6%</text>
<text transform="translate(1433.91 1431.75) scale(0.8689 1)" font-size="43.93" font-weight="normal" fill="#1c1c1c" stroke="#d9d9d9" stroke-width="0.5">11.9%</text>
<text transform="translate(63.45 1508.00) scale(0.8757 1)" font-size="43.20" font-weight="bold" fill="#1c1c1c">BEV</text>
<text transform="translate(469.93 1508.25) scale(0.8646 1)" font-size="43.93" font-weight="normal" fill="#1c1c1c" stroke="#ffffff" stroke-width="0.5">127,492</text>
<text transform="translate(724.42 1508.25) scale(0.8856 1)" font-size="43.93" font-weight="normal" fill="#1c1c1c" stroke="#ffffff" stroke-width="0.5">85,032</text>
<text transform="translate(976.63 1508.25) scale(0.8577 1)" font-size="43.93" font-weight="normal" fill="#1c1c1c" stroke="#ffffff" stroke-width="0.5">49.9%</text>
<text transform="translate(1202.29 1508.25) scale(0.8450 1)" font-size="43.93" font-weight="normal" fill="#1c1c1c" stroke="#ffffff" stroke-width="0.5">13.9%</text>
<text transform="translate(1445.36 1508.25) scale(0.8625 1)" font-size="43.93" font-weight="normal" fill="#1c1c1c" stroke="#ffffff" stroke-width="0.5">8.2%</text>
<text transform="translate(63.41 1584.50) scale(0.8875 1)" font-size="43.20" font-weight="bold" fill="#1c1c1c">PHEV</text>
<text transform="translate(479.85 1584.75) scale(0.8689 1)" font-size="43.93" font-weight="normal" fill="#1c1c1c" stroke="#d9d9d9" stroke-width="0.5">57,796</text>
<text transform="translate(727.14 1584.75) scale(0.8794 1)" font-size="43.93" font-weight="normal" fill="#1c1c1c" stroke="#d9d9d9" stroke-width="0.5">68,107</text>
<text transform="translate(960.12 1584.75) scale(0.8866 1)" font-size="43.93" font-weight="normal" fill="#1c1c1c" stroke="#d9d9d9" stroke-width="0.5">-15.1%</text>
<text transform="translate(1209.87 1584.75) scale(0.8665 1)" font-size="43.93" font-weight="normal" fill="#1c1c1c" stroke="#d9d9d9" stroke-width="0.5">6.3%</text>
<text transform="translate(1448.19 1584.75) scale(0.8571 1)" font-size="43.93" font-weight="normal" fill="#1c1c1c" stroke="#d9d9d9" stroke-width="0.5">6.6%</text>
<text transform="translate(63.40 1661.00) scale(0.8921 1)" font-size="43.20" font-weight="bold" fill="#1c1c1c">HEV</text>
<text transform="translate(469.91 1661.25) scale(0.8698 1)" font-size="43.93" font-weight="normal" fill="#1c1c1c" stroke="#ffffff" stroke-width="0.5">105,332</text>
<text transform="translate(734.88 1661.25) scale(0.8565 1)" font-size="43.93" font-weight="normal" fill="#1c1c1c" stroke="#ffffff" stroke-width="0.5">87,261</text>
<text transform="translate(975.57 1661.25) scale(0.8663 1)" font-size="43.93" font-weight="normal" fill="#1c1c1c" stroke="#ffffff" stroke-width="0.5">20.7%</text>
<text transform="translate(1202.21 1661.25) scale(0.8689 1)" font-size="43.93" font-weight="normal" fill="#1c1c1c" stroke="#ffffff" stroke-width="0.5">11.5%</text>
<text transform="translate(1445.36 1661.25) scale(0.8625 1)" font-size="43.93" font-weight="normal" fill="#1c1c1c" stroke="#ffffff" stroke-width="0.5">8.4%</text>
<text transform="translate(64.01 1737.50) scale(0.9035 1)" font-size="43.20" font-weight="bold" fill="#1c1c1c">TOTAL</text>
<text transform="translate(460.13 1737.85) scale(0.9373 1)" font-size="44.22" font-weight="bold" fill="#1c1c1c" stroke="#d9d9d9" stroke-width="0.7">914,241</text>
<text transform="translate(664.73 1737.85) scale(0.9593 1)" font-size="44.22" font-weight="bold" fill="#1c1c1c" stroke="#d9d9d9" stroke-width="0.7">1,033,269</text>
<text transform="translate(998.28 1737.85) scale(0.9411 1)" font-size="44.22" font-weight="bold" fill="#1c1c1c" stroke="#d9d9d9" stroke-width="0.7">1.5%</text>
<text transform="translate(432.11 1104.00) scale(0.8655 1)" font-size="45.59" font-weight="bold" fill="#1b2555">YTD 2022</text>
<text transform="translate(673.18 1104.00) scale(0.9054 1)" font-size="45.59" font-weight="bold" fill="#1b2555">YTD 2021</text>
<text transform="translate(984.59 1064.80) scale(0.9104 1)" font-size="44.46" font-weight="bold" fill="#1b2555">%</text>
<text transform="translate(947.81 1114.20) scale(0.9133 1)" font-size="40.83" font-weight="bold" fill="#1b2555">change</text>
<text transform="translate(1195.63 1064.80) scale(1.0349 1)" font-size="36.83" font-weight="bold" fill="#9a9a9f">Mkt</text>
<text transform="translate(1154.49 1110.50) scale(0.9247 1)" font-size="37.52" font-weight="bold" fill="#9a9a9f">share –22</text>
<text transform="translate(1429.25 1065.10) scale(1.0152 1)" font-size="37.24" font-weight="bold" fill="#9a9a9f">Mkt</text>
<text transform="translate(1388.04 1111.10) scale(0.8820 1)" font-size="37.66" font-weight="bold" fill="#9a9a9f">share –21</text>
<text transform="translate(23.19 1842.10) scale(0.8931 1)" font-size="36.65" font-weight="bold" fill="#121212">BEV</text>
<text transform="translate(103.36 1842.32) scale(0.9169 1)" font-size="37.31" font-weight="normal" fill="#121212" stroke="#ffffff" stroke-width="0.45">- Battery Electric Vehicle;</text>
<text transform="translate(488.05 1842.10) scale(0.9099 1)" font-size="36.65" font-weight="bold" fill="#121212">PHEV</text>
<text transform="translate(589.38 1842.32) scale(0.9034 1)" font-size="37.31" font-weight="normal" fill="#121212" stroke="#ffffff" stroke-width="0.45">- Plug-in Hybrid Electric Vehicle;</text>
<text transform="translate(1074.74 1842.10) scale(0.9151 1)" font-size="36.65" font-weight="bold" fill="#121212">HEV</text>
<text transform="translate(1154.19 1842.32) scale(0.8981 1)" font-size="37.31" font-weight="normal" fill="#121212" stroke="#ffffff" stroke-width="0.45">- Hybrid Electric Vehicle,</text>
<text transform="translate(23.10 1885.80) scale(0.9304 1)" font-size="36.65" font-weight="bold" fill="#121212">MHEV</text>
<text transform="translate(131.18 1886.02) scale(0.9013 1)" font-size="37.31" font-weight="normal" fill="#121212" stroke="#ffffff" stroke-width="0.45">- Mild Hybrid Electric Vehicle</text>
</svg>
</body></html>
